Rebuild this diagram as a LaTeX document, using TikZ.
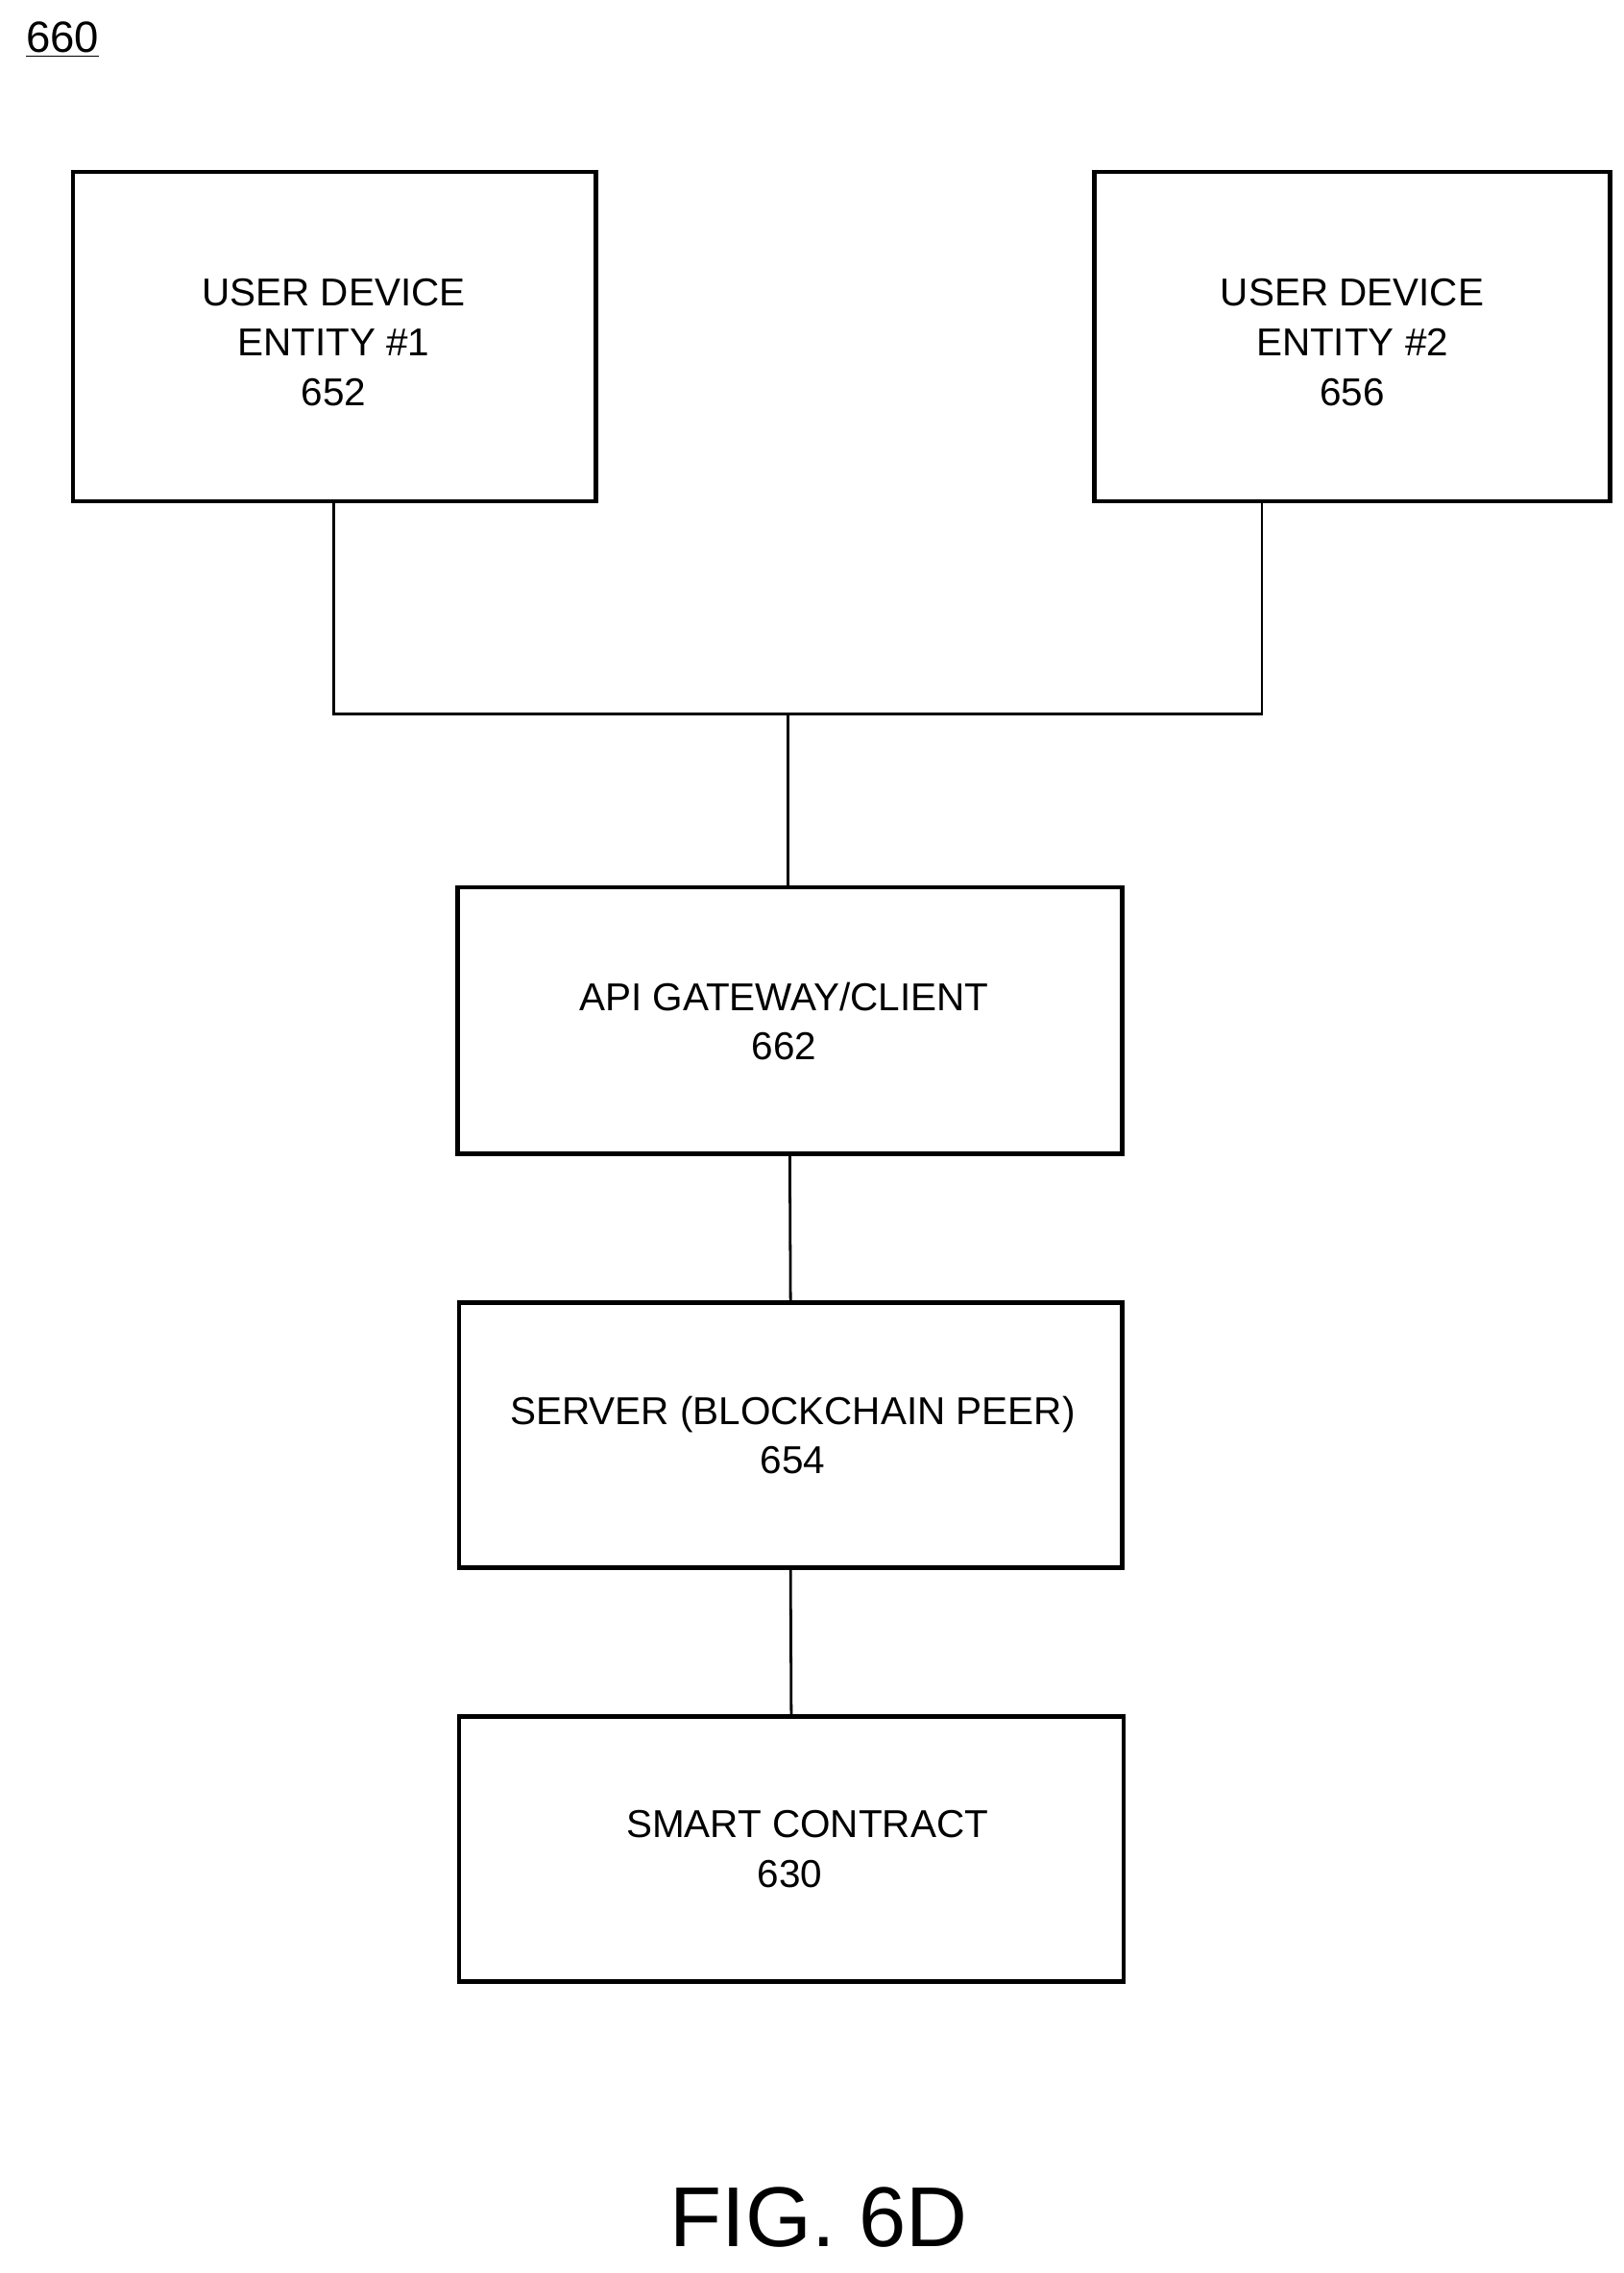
\documentclass[tikz,border=0pt]{standalone}
\usepackage{fontspec}
\setmainfont{Liberation Sans}
\begin{document}
\begin{tikzpicture}[x=0.6pt,y=-0.6pt,
  box/.style={draw,line width=1.8pt,inner sep=0pt},
  conn/.style={line width=1.1pt},
  txt/.style={font=\fontsize{16}{20.4}\selectfont,align=center}]
\useasboundingbox (0,0) rectangle (1114,1560);
\node[box,minimum width=359*0.6pt,minimum height=226*0.6pt] (u1) at (229.5,231) {};
\node[txt] at (229,235) {USER DEVICE\\ENTITY \#1\\652};
\node[box,minimum width=354*0.6pt,minimum height=226*0.6pt] (u2) at (928,231) {};
\node[txt] at (928,235) {USER DEVICE\\ENTITY \#2\\656};
\node[box,minimum width=456*0.6pt,minimum height=183*0.6pt] (api) at (542,700.5) {};
\node[txt] at (538,701) {API GATEWAY/CLIENT\\662};
\node[box,minimum width=455*0.6pt,minimum height=182*0.6pt] (srv) at (542.5,985) {};
\node[txt] at (544,985) {SERVER (BLOCKCHAIN PEER)\\654};
\node[box,minimum width=456*0.6pt,minimum height=182*0.6pt] (sc) at (543,1269) {};
\node[txt] at (554,1252) {SMART CONTRACT};
\node[txt] at (542,1286) {630};
\coordinate (j1) at (229,490);
\coordinate (j2) at (866,490);
\coordinate (jm) at (541,490);
\draw[conn] (229,344) -- (j1) -- (j2) -- (866,344);
\draw[conn] (jm) -- (api.north -| jm);
\draw[conn] (api.south) -- (srv.north);
\draw[conn] (srv.south) -- (sc.north);
\node[font=\fontsize{18}{20}\selectfont] (lbl) at (43,27) {\underline{660}};
\node[font=\fontsize{35}{38}\selectfont] (fig) at (562,1522) {FIG. 6D};
\end{tikzpicture}
\end{document}
